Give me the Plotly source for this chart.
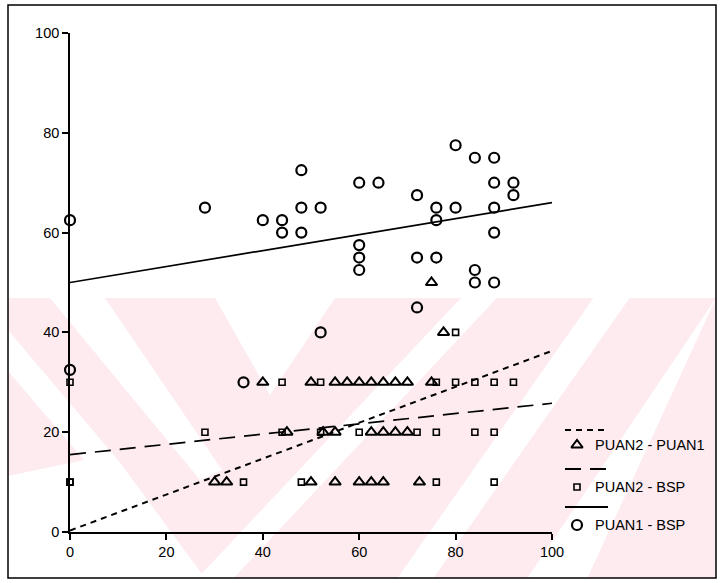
import plotly.graph_objects as go

# ---------------- data ----------------
# PUAN1 - BSP (large circles)
p1_bsp_x = [0, 0, 28, 36, 40, 44, 44, 48, 48, 48, 52, 52, 60, 60, 60, 60, 64,
            72, 72, 72, 76, 76, 76, 80, 80, 84, 84, 84, 88, 88, 88, 88, 88, 92, 92]
p1_bsp_y = [62.5, 32.5, 65, 30, 62.5, 62.5, 60, 72.5, 65, 60, 65, 40, 70, 57.5, 55, 52.5, 70,
            67.5, 55, 45, 65, 62.5, 55, 77.5, 65, 75, 52.5, 50, 75, 70, 65, 60, 50, 70, 67.5]

# PUAN2 - BSP (small squares)
p2_bsp_x = [0, 0, 44, 52, 76, 80, 84, 88, 92,
            28, 44, 52, 60, 72, 76, 84, 88,
            0, 36, 48, 76, 88, 80]
p2_bsp_y = [30, 10, 30, 30, 30, 30, 30, 30, 30,
            20, 20, 20, 20, 20, 20, 20, 20,
            10, 10, 10, 10, 10, 40]

# PUAN2 - PUAN1 (triangles)
p2_p1_x = [40, 50, 55, 57.5, 60, 62.5, 65, 67.5, 70, 75,
           45, 52.5, 55, 62.5, 65, 67.5, 70,
           30, 32.5, 50, 55, 60, 62.5, 65, 72.5,
           75, 77.5]
p2_p1_y = [30, 30, 30, 30, 30, 30, 30, 30, 30, 30,
           20, 20, 20, 20, 20, 20, 20,
           10, 10, 10, 10, 10, 10, 10, 10,
           50, 40]

# fitted lines (end values)
fit_x = [0, 100]
fit_p1_bsp = [50, 66]
fit_p2_bsp = [15.5, 25.8]
fit_p2_p1 = [0.3, 36.3]

x_ticks = [0, 20, 40, 60, 80, 100]
y_ticks = [0, 20, 40, 60, 80, 100]

legend_labels = ["PUAN2 - PUAN1", "PUAN2 - BSP", "PUAN1 - BSP"]

# ---------------- figure ----------------
W, H = 721, 583
def px(x):
    return x / W
def py(y):
    return 1 - y / H

FONT = "Liberation Sans, Arial, sans-serif"
fig = go.Figure()

fig.add_trace(go.Scatter(x=fit_x, y=fit_p2_p1, mode="lines",
                         line=dict(color="black", width=2, dash="6px,5px"),
                         showlegend=False, hoverinfo="skip"))
fig.add_trace(go.Scatter(x=fit_x, y=fit_p2_bsp, mode="lines",
                         line=dict(color="black", width=1.7, dash="16px,9px"),
                         showlegend=False, hoverinfo="skip"))
fig.add_trace(go.Scatter(x=fit_x, y=fit_p1_bsp, mode="lines",
                         line=dict(color="black", width=1.7),
                         showlegend=False, hoverinfo="skip"))

fig.add_trace(go.Scatter(x=p1_bsp_x, y=p1_bsp_y, mode="markers",
                         marker=dict(symbol="circle-open", size=10, color="black",
                                     line=dict(width=2.2, color="black")),
                         cliponaxis=False, showlegend=False))
fig.add_trace(go.Scatter(x=p2_bsp_x, y=p2_bsp_y, mode="markers",
                         marker=dict(symbol="square-open", size=6, color="black",
                                     line=dict(width=1.6, color="black")),
                         cliponaxis=False, showlegend=False))
fig.add_trace(go.Scatter(x=p2_p1_x, y=p2_p1_y, mode="markers",
                         marker=dict(symbol="triangle-up-open", size=10, color="black",
                                     line=dict(width=2, color="black")),
                         cliponaxis=False, showlegend=False))

# legend glyphs on a full-figure pixel axis
leg_mx = [577, 577, 577]
leg_my = [445, 487, 525]
fig.add_trace(go.Scatter(x=leg_mx[:1], y=leg_my[:1], xaxis="x2", yaxis="y2", mode="markers",
                         marker=dict(symbol="triangle-up-open", size=10, color="black",
                                     line=dict(width=2, color="black")),
                         showlegend=False, hoverinfo="skip"))
fig.add_trace(go.Scatter(x=leg_mx[1:2], y=leg_my[1:2], xaxis="x2", yaxis="y2", mode="markers",
                         marker=dict(symbol="square-open", size=6, color="black",
                                     line=dict(width=1.6, color="black")),
                         showlegend=False, hoverinfo="skip"))
fig.add_trace(go.Scatter(x=leg_mx[2:], y=leg_my[2:], xaxis="x2", yaxis="y2", mode="markers",
                         marker=dict(symbol="circle-open", size=10, color="black",
                                     line=dict(width=2.2, color="black")),
                         showlegend=False, hoverinfo="skip"))

shapes = []
pink = "#fdebef"
def poly(pts, color="white"):
    d = "M " + " L ".join(f"{px(x):.5f},{py(y):.5f}" for x, y in pts) + " Z"
    return dict(type="path", xref="paper", yref="paper", path=d,
                fillcolor=color, line=dict(width=0), layer="below")

def band(cx, cy, slope, half, y0=298, y1=578):
    # diagonal band: centre x = cx + slope*(y - cy)
    xa = cx + slope * (y0 - cy)
    xb = cx + slope * (y1 - cy)
    return [(xa - half, y0), (xa + half, y0), (xb + half, y1), (xb - half, y1)]

# watermark approximation
shapes.append(poly([(8, 298), (716, 298), (716, 578), (8, 578)], pink))
shapes.append(poly([(8, 330), (118, 460), (205, 578), (8, 578)]))
shapes.append(poly([(8, 371), (84, 460), (8, 476)], pink))
shapes.append(poly([(50, 298), (105, 298), (222, 470), (200, 480)]))
shapes.append(poly([(215, 298), (335, 298), (270, 395)]))
shapes.append(poly(band(477, 300, -0.94, 18)))
shapes.append(poly(band(538, 403, -0.7, 18)))
shapes.append(poly([(x if x < 716 else 716, y) for x, y in band(675, 410, -0.7, 30)]))

# outer frame
shapes.append(dict(type="rect", xref="paper", yref="paper",
                   x0=px(8), x1=px(716), y0=py(578), y1=py(5),
                   line=dict(color="black", width=1.5), fillcolor="rgba(0,0,0,0)", layer="above"))

# legend line samples
leg_line_y = [430, 469, 507]
leg_dash = ["6px,5px", "16px,9px", "solid"]
for yy, dd in zip(leg_line_y, leg_dash):
    shapes.append(dict(type="line", xref="paper", yref="paper",
                       x0=px(565), x1=px(608), y0=py(yy), y1=py(yy),
                       line=dict(color="black", width=1.8, dash=dd)))

annotations = []
for lab, yy in zip(legend_labels, leg_my):
    annotations.append(dict(text=lab, xref="paper", yref="paper", x=px(593), y=py(yy),
                            xanchor="left", yanchor="middle", showarrow=False,
                            font=dict(family=FONT, size=14.5, color="black")))

fig.update_layout(
    width=W, height=H,
    margin=dict(l=0, r=0, t=0, b=0),
    paper_bgcolor="white", plot_bgcolor="rgba(0,0,0,0)",
    showlegend=False,
    shapes=shapes, annotations=annotations,
    font=dict(family=FONT, size=14, color="black"),
    xaxis=dict(domain=[px(70), px(552)], range=[0, 100], tickvals=x_ticks,
               showgrid=False, zeroline=False, showline=True, linecolor="black", linewidth=1.6,
               ticks="outside", ticklen=6, tickwidth=1.6, tickcolor="black",
               tickfont=dict(size=14.5), anchor="y", automargin=False, fixedrange=True),
    yaxis=dict(domain=[py(532), py(33)], range=[0, 100], tickvals=y_ticks,
               showgrid=False, zeroline=False, showline=True, linecolor="black", linewidth=1.6,
               ticks="outside", ticklen=6, tickwidth=1.6, tickcolor="black",
               tickfont=dict(size=14.5), anchor="x", automargin=False, fixedrange=True),
    xaxis2=dict(domain=[0, 1], range=[0, W], visible=False, anchor="y2", fixedrange=True),
    yaxis2=dict(domain=[0, 1], range=[H, 0], visible=False, anchor="x2", fixedrange=True),
)

fig.write_html("out.html", config={"displayModeBar": False},
               post_script="document.body.style.margin='0px';document.body.style.overflow='hidden';")
